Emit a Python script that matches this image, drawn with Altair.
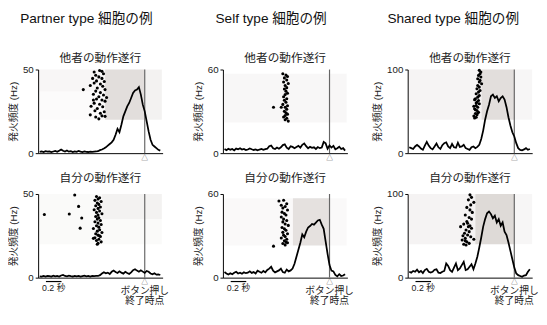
import altair as alt
import pandas as pd
import numpy as np

FONT = "Liberation Sans, Noto Sans CJK JP"
W, H = 128, 86
XDOM = [-1.37, 0.23]
RASTER = "#7a6a60"

# time bins (s, relative to end of button press)
times = np.round(-1.35 + 0.025 * np.arange(63), 3)

col_titles = ["Partner type 細胞の例", "Self type 細胞の例", "Shared type 細胞の例"]
row_titles = ["他者の動作遂行", "自分の動作遂行"]
ymaxes = [50, 60, 100]

# firing rates (Hz)
rate_partner_other = [0.8,1.0,0.7,1.2,0.9,1.1,0.6,1.0,1.3,0.8,
    1.5,2.2,1.4,1.0,1.6,0.9,1.2,0.7,1.1,0.8,
    1.3,0.9,0.6,1.0,0.8,0.7,0.9,0.8,0.9,1.0,
    1.2,1.8,2.2,2.8,3.5,4.5,5.5,6.5,8.0,11.0,
    14.5,12.5,17.0,22.0,25.0,28.0,30.0,33.0,36.0,37.5,
    38.0,39.5,35.0,29.0,25.0,19.0,13.0,8.0,5.0,4.0,
    3.0,2.0,1.5]
rate_partner_self = [0.8,0.6,1.0,0.7,1.1,0.9,0.6,1.2,0.8,1.0,
    0.7,1.3,1.6,1.0,0.8,1.2,0.9,0.7,1.1,0.8,
    1.0,0.6,0.9,1.2,0.8,1.0,0.7,1.1,0.9,1.0,
    1.0,1.5,2.5,3.2,2.6,3.0,2.2,3.5,4.2,3.4,
    2.8,3.8,3.0,2.4,3.5,2.8,2.2,3.2,4.5,5.0,
    4.2,3.5,4.4,3.6,2.8,4.0,3.5,2.5,2.0,2.6,
    1.8,2.0,1.6]
rate_self_other = [3.0,2.2,3.2,2.5,3.0,2.0,3.3,2.8,3.5,2.6,
    3.0,2.2,2.6,3.4,2.8,2.3,2.7,2.0,2.6,3.0,
    2.4,2.9,3.2,5.0,5.5,3.5,3.0,4.0,3.2,4.2,
    5.8,6.3,4.0,3.0,5.0,4.5,3.6,4.5,5.2,4.0,
    6.0,7.0,5.0,3.5,4.5,3.8,4.2,3.0,4.4,3.6,
    4.0,8.0,7.0,3.2,5.5,4.0,5.2,2.8,3.5,4.6,
    3.0,3.6,1.8]
rate_self_self = [4.0,3.0,2.2,3.2,2.4,3.5,4.2,3.0,3.6,2.8,
    3.8,3.2,3.6,4.5,3.4,4.0,3.0,5.0,4.2,3.5,
    4.8,3.8,5.5,6.5,7.8,5.0,3.8,4.5,5.2,6.5,
    4.0,3.5,5.8,4.5,5.2,6.5,10.0,15.0,20.0,25.0,
    31.0,29.0,33.0,36.0,37.0,38.5,38.0,39.5,41.0,41.5,
    38.0,35.0,26.0,17.0,9.0,5.0,4.5,2.0,1.0,2.5,
    1.2,1.5,2.5]
rate_shared_other = [7,6,5,8,10,8,5.5,4,9,13.5,
    9,6,4.5,8,11.5,7,5,9.5,12,13,
    8,6,11,7,6.5,12.5,7.5,8,10,6,
    5,4,7,8,6,7.5,10,17,27,40,
    50,58,68,70,66,68,62,66,68,64,
    55,43,33,25,20,12,6,4,3.5,4.5,
    6,4,5]
rate_shared_self = [7,6,8,7,9.5,6.5,8,5.5,9,10.5,
    7,6,7,9.5,10,6,5.5,7,8,17,
    14,9,7,12,17,9,11,15,19,9,
    10,13,16,10,17,25,36,48,61,70,
    77,79,76,71,74,66,70,62,66,55,
    51,42,32,22,12,5,3,2,1,2.5,
    3,7,10]

# movement-onset markers (time s, row position in Hz units)
dots_t1 = [-0.65,-0.58,-0.55,-0.53,-0.63,-0.59,-0.67,-0.55,-0.62,-0.52,-0.65,-0.57,-0.70,-0.54,-0.61,-0.79,-0.51,-0.63,-0.57,-0.66,-0.53,-0.59,-0.62,-0.55,-0.51,-0.65,-0.58,-0.69,-0.54,-0.61,-0.64,-0.52,-0.57,-0.70,-0.55,-0.63,-0.59,-0.51,-0.66,-0.49]
dots_r1 = [48.5,49.4,48.9,47.5,46.6,45.6,44.7,44.7,43.2,42.8,41.9,41.3,40.5,40.0,39.0,38.0,38.0,37.1,36.2,35.2,34.8,33.7,32.4,31.8,31.1,29.9,29.2,28.0,27.7,26.7,25.4,24.8,23.9,22.9,22.3,21.6,20.5,22.0,31.8,33.3]
dots_t2 = [-0.90,-0.85,-0.97,-0.81,-0.83,-1.29,
    -0.62,-0.58,-0.60,-0.64,-0.56,-0.61,-0.59,-0.63,-0.57,-0.60,-0.65,-0.58,-0.62,-0.55,-0.60,-0.63,-0.59,-0.61,-0.57,-0.64,-0.60,-0.56,-0.62,-0.59,-0.66,-0.58,-0.61,-0.55,-0.63,-0.60,-0.57,-0.64,-0.59,-0.62,-0.56,-0.60,-0.66,-0.58,-0.61]
dots_r2 = [49.4,42.6,38.0,35.7,29.6,37.8,
    48.5,47.8,47.0,46.2,45.5,44.6,43.8,43.0,42.2,41.4,40.6,39.8,39.0,38.2,37.4,36.6,35.8,35.0,34.2,33.4,32.6,31.8,31.0,30.2,29.4,28.6,27.8,27.0,26.2,25.4,24.6,23.8,23.0,22.2,21.4,20.6,23.5,25.0,20.0]
dots_t3 = [-0.60,-0.56,-0.54,-0.58,-0.55,-0.59,-0.53,-0.57,-0.55,-0.58,-0.56,-0.54,-0.57,-0.59,-0.55,-0.58,-0.56,-0.60,-0.54,-0.57,-0.55,-0.58,-0.62,-0.56,-0.54,-0.57,-0.59,-0.55,-0.57,-0.53,-0.72]
dots_r3 = [57,56,55,54,52.5,51,50,48.5,47,46,44.5,43,42,40.5,39,38,36.5,35,34,33,31.5,30,33,29,28,27,26,25,24,23,33]
dots_t4 = [-0.65,-0.59,-0.55,-0.62,-0.57,-0.60,-0.54,-0.61,-0.58,-0.56,-0.62,-0.59,-0.55,-0.60,-0.57,-0.53,-0.61,-0.58,-0.56,-0.60,-0.54,-0.59,-0.57,-0.62,-0.55,-0.58,-0.56,-0.60,-0.57,-0.54,-0.72]
dots_r4 = [55,55.5,53,52,51,50,48.5,47,46,45,43.5,42,41,40,38.5,37.5,36,35,34,32.5,31.5,30.5,29.5,28.5,27.5,26.5,25.5,24.5,23.5,25,22.6]
dots_t5 = [-0.45,-0.43,-0.44,-0.46,-0.43,-0.47,-0.44,-0.45,-0.42,-0.47,-0.45,-0.48,-0.44,-0.46,-0.49,-0.45,-0.47,-0.50,-0.46,-0.48,-0.45,-0.49,-0.47,-0.51,-0.48,-0.46,-0.50,-0.48,-0.52,-0.49,-0.51,-0.47,-0.50,-0.52,-0.49,-0.51]
dots_r5 = [99,97,95,93,91,89,87,85,83,81,79,77,75,73,71,69,67,65,63,61,59,57,55,53,51,49,47.5,46,44.5,43,42,48,52,56,60,64]
dots_t6 = [-0.57,-0.55,-0.59,-0.52,-0.56,-0.61,-0.57,-0.54,-0.63,-0.58,-0.55,-0.61,-0.65,-0.59,-0.55,-0.62,-0.58,-0.64,-0.60,-0.56,-0.63,-0.67,-0.61,-0.58,-0.65,-0.62,-0.52,-0.69,-0.60,-0.66,-0.63,-0.57]
dots_r6 = [99,96,93,90,87,84,81,78,75,72,70,67,64,61,59,57,55,53,51,49,47,45,43,41,40,39,46,61,65,50,44,62]

# raster spike-density regions: start, end (s), row range (Hz units), density
reg1 = dict(t0=[-1.37,-1.37,-0.51,0.0], t1=[-0.51,-0.51,0.0,0.22], y0=[20,37,20,20], y1=[50,50,50,50], lv=[0.025,0.03,0.22,0.09])
reg2 = dict(t0=[-1.37,-0.55], t1=[0.22,0.22], y0=[20,35], y1=[50,50], lv=[0.035,0.05])
reg3 = dict(t0=[-1.37], t1=[0.22], y0=[22], y1=[57], lv=[0.05])
reg4 = dict(t0=[-1.37,-0.47], t1=[0.22,0.0], y0=[23,23], y1=[57,57], lv=[0.04,0.17])
reg5 = dict(t0=[-1.37,-0.42,0.0], t1=[-0.42,0.0,0.23], y0=[40,40,40], y1=[100,100,100], lv=[0.07,0.22,0.06])
reg6 = dict(t0=[-1.37,-0.5,0.0], t1=[-0.5,0.0,0.23], y0=[40,40,40], y1=[100,100,100], lv=[0.08,0.25,0.06])

panels = [
    [(rate_partner_other, dots_t1, dots_r1, reg1), (rate_partner_self, dots_t2, dots_r2, reg2)],
    [(rate_self_other, dots_t3, dots_r3, reg3), (rate_self_self, dots_t4, dots_r4, reg4)],
    [(rate_shared_other, dots_t5, dots_r5, reg5), (rate_shared_self, dots_t6, dots_r6, reg6)],
]

scale_bar = dict(t0=[-1.27], t1=[-1.07], tm=[-1.17])


def make_panel(rate, dt, dr, reg, ymax, col_title, row_title, bottom):
    xsc = alt.Scale(domain=XDOM, nice=False, zero=False)
    ysc = alt.Scale(domain=[0, ymax], nice=False, zero=True)
    xax = alt.Axis(labels=False, ticks=False, title=None, grid=False,
                   domainColor="black", domainWidth=1)
    yax = alt.Axis(values=[0, ymax], title="発火頻度 (Hz)", grid=False,
                   domainColor="black", tickColor="black", tickSize=3,
                   labelFontSize=10, titleFontSize=10, titleFontWeight="normal",
                   labelColor="#222", titleColor="#222", labelPadding=2, titlePadding=4)
    X = lambda f: alt.X(f, scale=xsc, axis=xax)
    Y = lambda f: alt.Y(f, scale=ysc, axis=yax)
    raster = alt.Chart(pd.DataFrame(reg)).mark_rect(color=RASTER).encode(
        x=X("t0:Q"), x2="t1", y=Y("y0:Q"), y2="y1",
        opacity=alt.Opacity("lv:Q", scale=None))
    dots = alt.Chart(pd.DataFrame({"t": dt, "r": dr})).mark_circle(
        size=10, color="black", opacity=1).encode(x=X("t:Q"), y=Y("r:Q"))
    zero = pd.DataFrame({"t": [0.0], "r0": [0], "r1": [ymax]})
    vline = alt.Chart(zero).mark_rule(color="#666666", strokeWidth=1.2).encode(
        x=X("t:Q"), y=Y("r0:Q"), y2="r1")
    curve = alt.Chart(pd.DataFrame({"t": times, "r": rate})).mark_line(
        color="black", strokeWidth=1.8).encode(x=X("t:Q"), y=Y("r:Q"))
    tri = alt.Chart(zero).mark_text(text="△", fontSize=7, baseline="top", color="#444").encode(
        x=X("t:Q"), y=alt.value(H + 1))
    layers = [raster, dots, vline, curve, tri]
    if bottom:
        sb = pd.DataFrame(scale_bar)
        bar = alt.Chart(sb).mark_rule(color="black", strokeWidth=1.2).encode(
            x=X("t0:Q"), x2="t1", y=alt.value(H + 4))
        bar_lbl = alt.Chart(sb).mark_text(text="0.2 秒", fontSize=9, baseline="top", color="#222").encode(
            x=X("tm:Q"), y=alt.value(H + 7))
        btn1 = alt.Chart(zero).mark_text(text="ボタン押し", fontSize=10, baseline="top", color="#222").encode(
            x=X("t:Q"), y=alt.value(H + 9))
        btn2 = alt.Chart(zero).mark_text(text="終了時点", fontSize=10, baseline="top", color="#222").encode(
            x=X("t:Q"), y=alt.value(H + 19))
        layers += [bar, bar_lbl, btn1, btn2]
        title = alt.TitleParams(row_title, fontSize=12, fontWeight="normal",
                                color="#222", offset=4, frame="group")
    else:
        rt = alt.Chart(zero).mark_text(text=row_title, fontSize=12, baseline="middle",
                                       color="#222").encode(x=alt.value(W / 2), y=alt.value(-12))
        layers += [rt]
        title = alt.TitleParams(col_title, fontSize=14, fontWeight="normal",
                                color="#111", offset=27, frame="bounds", anchor="middle")
    return alt.layer(*layers).properties(width=W, height=H, title=title)


tops = [make_panel(*panels[c][0], ymaxes[c], col_titles[c], row_titles[0], False) for c in range(3)]
bots = [make_panel(*panels[c][1], ymaxes[c], col_titles[c], row_titles[1], True) for c in range(3)]

chart = alt.concat(*tops, *bots, columns=3, spacing={"row": 42, "column": 62},
                   bounds="flush").properties(
    padding={"left": 0, "top": 0, "right": 0, "bottom": 0}).configure(
    font=FONT, view=alt.ViewConfig(stroke=None))

chart.save("out.html", embed_options={"renderer": "svg", "actions": False})
